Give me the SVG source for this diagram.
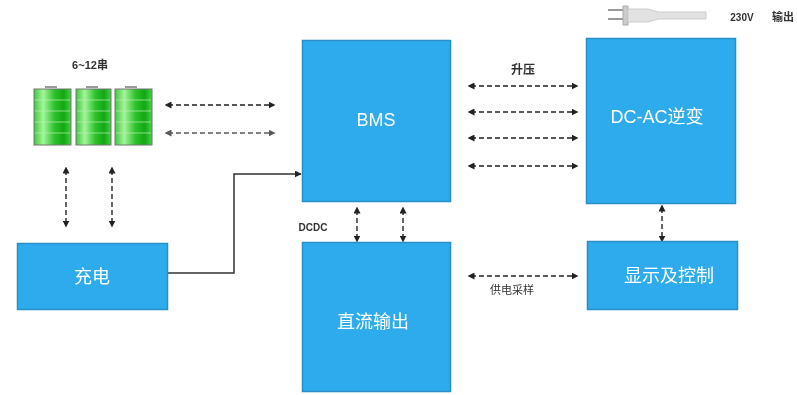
<svg xmlns="http://www.w3.org/2000/svg" width="797" height="395" viewBox="0 0 797 395">
<style>
.box{fill:#2fabec;stroke:#2a8fc6;stroke-width:1.5}
.w{fill:#fff;font-family:"Liberation Sans","Noto Sans CJK SC",sans-serif;font-size:18px;text-anchor:middle;dominant-baseline:central}
.k{fill:#333;font-family:"Liberation Sans","Noto Sans CJK SC",sans-serif;font-size:11px;font-weight:bold;text-anchor:middle;dominant-baseline:central}
.d{stroke:#222;stroke-width:1.4;fill:none;stroke-dasharray:5 3;marker-start:url(#a);marker-end:url(#a)}
.s{stroke:#333;stroke-width:1.5;fill:none;marker-end:url(#e)}
.bat{fill:url(#g);stroke:#777;stroke-width:1}
.seg{stroke:#b8f0b0;stroke-width:1;opacity:.7}
.cap{fill:#999}
</style>
<defs>
<filter id="b" x="-5%" y="-5%" width="110%" height="110%"><feGaussianBlur stdDeviation="0.7"/></filter>
<linearGradient id="g" x1="0" x2="1" y1="0" y2="0">
<stop offset="0" stop-color="#3fc83f"/><stop offset=".25" stop-color="#a4f59a"/><stop offset=".55" stop-color="#2fc22f"/><stop offset=".8" stop-color="#12a812"/><stop offset="1" stop-color="#45cf45"/>
</linearGradient>
<marker id="a" viewBox="0 0 10 10" refX="5" refY="5" markerWidth="7" markerHeight="7" markerUnits="userSpaceOnUse" orient="auto-start-reverse"><path d="M0 0L10 5L0 10z" fill="#222"/></marker>
<marker id="e" viewBox="0 0 10 10" refX="9" refY="5" markerWidth="7" markerHeight="7" markerUnits="userSpaceOnUse" orient="auto"><path d="M0 0L10 5L0 10z" fill="#222"/></marker>
</defs>
<rect width="797" height="395" fill="#fff"/>
<g filter="url(#b)">
<g id="connectors">
<path class="d" d="M168 105H272"/>
<path class="d" d="M168 133H272" opacity=".75"/>
<path class="d" d="M66 170V224"/>
<path class="d" d="M112 170V224"/>
<path class="s" d="M168 273H234V174H301"/>
<path class="d" d="M357 210V239"/>
<path class="d" d="M403 210V239"/>
<path class="d" d="M471 86H575"/>
<path class="d" d="M471 112H575"/>
<path class="d" d="M471 138H575"/>
<path class="d" d="M471 166H575"/>
<path class="d" d="M662 208V239"/>
<path class="d" d="M471 276H575"/>
</g>
<g id="batteries">
<rect class="cap" x="45" y="86" width="12" height="2"/><rect class="cap" x="86" y="86" width="12" height="2"/><rect class="cap" x="125" y="86" width="12" height="2"/>
<rect class="bat" x="34" y="89" width="37" height="56"/>
<rect class="bat" x="76" y="89" width="35" height="56"/>
<rect class="bat" x="115" y="89" width="37" height="56"/>
<path class="seg" d="M35 100H70M35 111H70M35 122H70M35 133H70M77 100H110M77 111H110M77 122H110M77 133H110M116 100H151M116 111H151M116 122H151M116 133H151"/>
</g>
<text class="k" x="90" y="65">6~12串</text>
<g id="bms"><rect class="box" x="302.500" y="40.500" width="148" height="161"/><text class="w" x="376" y="120">BMS</text></g>
<g id="dcac"><rect class="box" x="586.500" y="38.500" width="149" height="165"/><text class="w" x="657" y="117">DC-AC逆变</text></g>
<g id="charge"><rect class="box" x="17.500" y="243.500" width="150" height="66"/><text class="w" x="92" y="277">充电</text></g>
<g id="dcout"><rect class="box" x="302.500" y="242.500" width="148" height="149"/><text class="w" x="373" y="322">直流输出</text></g>
<g id="display"><rect class="box" x="587.500" y="241.500" width="150" height="68"/><text class="w" x="669" y="276">显示及控制</text></g>
<g id="plug">
<path d="M608 10H623M608 19H623" stroke="#999" stroke-width="2" fill="none"/>
<path d="M623 6H628V25H623z" fill="#ccc" stroke="#aaa"/>
<path d="M628 9H648L658 12H706V19H658L648 22H628z" fill="#e2e2e2" stroke="#ccc"/>
</g>
<text class="k" x="742" y="17" style="font-size:10px">230V</text>
<text class="k" x="783" y="17">输出</text>
<text class="k" x="523" y="70" style="font-size:12px">升压</text>
<text class="k" x="313" y="227" style="font-size:10px">DCDC</text>
<text class="k" x="512" y="290" style="font-weight:normal">供电采样</text>
</g>
</svg>
